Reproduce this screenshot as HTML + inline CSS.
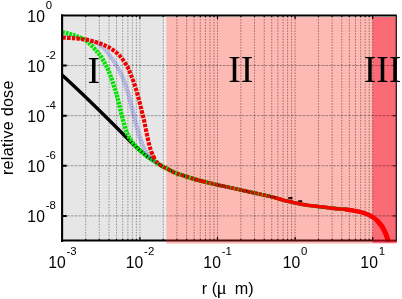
<!DOCTYPE html>
<html><head><meta charset="utf-8"><title>relative dose</title>
<style>html,body{margin:0;padding:0;background:#fff}svg{display:block}text{font-family:"Liberation Sans",sans-serif;fill:#000}.s{font-family:"Liberation Serif",serif}</style></head><body>
<svg width="402" height="299" viewBox="0 0 402 299">
<rect width="402" height="299" fill="#fff"/>
<rect x="63" y="17" width="103.10" height="223.94" fill="#e6e6e6"/>
<rect x="166.10" y="17" width="206.20" height="226.60" fill="#fdbab4"/>
<rect x="372.30" y="17" width="24.16" height="226.30" fill="#fb6b76"/>
<rect x="163.9" y="17" width="2.3" height="222.94" fill="#ececec"/>
<path d="M85.66 16.40 V239.94 M99.32 16.40 V239.94 M109.02 16.40 V239.94 M116.54 16.40 V239.94 M122.68 16.40 V239.94 M127.88 16.40 V239.94 M132.38 16.40 V239.94 M136.35 16.40 V239.94 M139.90 16.40 V239.94 M163.26 16.40 V239.94" stroke="#000" stroke-opacity="0.36" stroke-width="1" stroke-dasharray="1.5 1.3" fill="none"/>
<path d="M176.92 16.40 V239.94 M186.62 16.40 V239.94 M194.14 16.40 V239.94 M200.28 16.40 V239.94 M205.48 16.40 V239.94 M209.98 16.40 V239.94 M213.95 16.40 V239.94 M217.50 16.40 V239.94 M240.86 16.40 V239.94 M254.52 16.40 V239.94 M264.22 16.40 V239.94 M271.74 16.40 V239.94 M277.88 16.40 V239.94 M283.08 16.40 V239.94 M287.58 16.40 V239.94 M291.55 16.40 V239.94 M295.10 16.40 V239.94 M318.46 16.40 V239.94 M332.12 16.40 V239.94 M341.82 16.40 V239.94 M349.34 16.40 V239.94 M355.48 16.40 V239.94 M360.68 16.40 V239.94 M365.18 16.40 V239.94 M369.15 16.40 V239.94 M372.70 16.40 V239.94" stroke="#300" stroke-opacity="0.44" stroke-width="1" stroke-dasharray="1.5 1.3" fill="none"/>
<path d="M63.30 65.52 H395.06 M63.30 115.64 H395.06 M63.30 165.76 H395.06 M63.30 215.88 H395.06" stroke="#000" stroke-opacity="0.36" stroke-width="1" stroke-dasharray="2.6 1.2" fill="none"/>
<path d="M85.66 240.94 v-2.00 M99.32 240.94 v-2.00 M109.02 240.94 v-2.00 M116.54 240.94 v-2.00 M122.68 240.94 v-2.00 M127.88 240.94 v-2.00 M132.38 240.94 v-2.00 M136.35 240.94 v-2.00 M139.90 240.94 v-4.00 M163.26 240.94 v-2.00 M176.92 240.94 v-2.00 M186.62 240.94 v-2.00 M194.14 240.94 v-2.00 M200.28 240.94 v-2.00 M205.48 240.94 v-2.00 M209.98 240.94 v-2.00 M213.95 240.94 v-2.00 M217.50 240.94 v-4.00 M240.86 240.94 v-2.00 M254.52 240.94 v-2.00 M264.22 240.94 v-2.00 M271.74 240.94 v-2.00 M277.88 240.94 v-2.00 M283.08 240.94 v-2.00 M287.58 240.94 v-2.00 M291.55 240.94 v-2.00 M295.10 240.94 v-4.00 M318.46 240.94 v-2.00 M332.12 240.94 v-2.00 M341.82 240.94 v-2.00 M349.34 240.94 v-2.00 M355.48 240.94 v-2.00 M360.68 240.94 v-2.00 M365.18 240.94 v-2.00 M369.15 240.94 v-2.00 M372.70 240.94 v-4.00 M85.66 15.40 v1.50 M99.32 15.40 v1.50 M109.02 15.40 v1.50 M116.54 15.40 v1.50 M122.68 15.40 v1.50 M127.88 15.40 v1.50 M132.38 15.40 v1.50 M136.35 15.40 v1.50 M139.90 15.40 v3.50 M163.26 15.40 v1.50 M176.92 15.40 v1.50 M186.62 15.40 v1.50 M194.14 15.40 v1.50 M200.28 15.40 v1.50 M205.48 15.40 v1.50 M209.98 15.40 v1.50 M213.95 15.40 v1.50 M217.50 15.40 v3.50 M240.86 15.40 v1.50 M254.52 15.40 v1.50 M264.22 15.40 v1.50 M271.74 15.40 v1.50 M277.88 15.40 v1.50 M283.08 15.40 v1.50 M287.58 15.40 v1.50 M291.55 15.40 v1.50 M295.10 15.40 v3.50 M318.46 15.40 v1.50 M332.12 15.40 v1.50 M341.82 15.40 v1.50 M349.34 15.40 v1.50 M355.48 15.40 v1.50 M360.68 15.40 v1.50 M365.18 15.40 v1.50 M369.15 15.40 v1.50 M372.70 15.40 v3.50" stroke="#000" stroke-width="1.2" fill="none"/>
<path d="M62.30 65.52 h4.5 M62.30 115.64 h4.5 M62.30 165.76 h4.5 M62.30 215.88 h4.5" stroke="#000" stroke-width="2" fill="none"/>
<path d="M396.06 65.52 h-3.5 M396.06 115.64 h-3.5 M396.06 165.76 h-3.5 M396.06 215.88 h-3.5" stroke="#5a0a10" stroke-width="1.2" fill="none"/>
<clipPath id="c"><rect x="62.30" y="15.40" width="334.76" height="226.14"/></clipPath>
<g clip-path="url(#c)" fill="none">
<path d="M62.00 74.90 C65.83 78.50 77.50 89.32 85.00 96.50 C92.50 103.68 101.17 112.25 107.00 118.00 C112.83 123.75 115.33 126.33 120.00 131.00 C124.67 135.67 130.83 142.05 135.00 146.00 C139.17 149.95 142.50 152.62 145.00 154.70 C147.50 156.78 148.33 157.33 150.00 158.50 C151.67 159.67 153.33 160.63 155.00 161.70 C156.67 162.77 158.33 163.90 160.00 164.90 C161.67 165.90 162.50 166.40 165.00 167.70 C167.50 169.00 171.67 171.30 175.00 172.70 C178.33 174.10 181.67 175.00 185.00 176.10 C188.33 177.20 191.67 178.33 195.00 179.30 C198.33 180.27 201.67 181.07 205.00 181.90 C208.33 182.73 210.00 183.17 215.00 184.30 C220.00 185.43 228.33 187.23 235.00 188.70 C241.67 190.17 248.33 191.60 255.00 193.10 C261.67 194.60 270.00 196.43 275.00 197.70 C280.00 198.97 280.00 199.50 285.00 200.70 C290.00 201.90 298.33 203.80 305.00 204.90 C311.67 206.00 320.00 206.70 325.00 207.30 C330.00 207.90 331.67 208.17 335.00 208.50 C338.33 208.83 341.67 208.90 345.00 209.30 C348.33 209.70 351.93 210.30 355.00 210.90 C358.07 211.50 360.90 212.13 363.40 212.90 C365.90 213.67 367.77 214.28 370.00 215.50 C372.23 216.72 374.83 218.42 376.80 220.20 C378.77 221.98 380.42 224.18 381.80 226.20 C383.18 228.22 384.13 230.17 385.10 232.30 C386.07 234.43 386.95 237.10 387.60 239.00 C388.25 240.90 388.77 242.92 389.00 243.70" stroke="#000" stroke-width="3.4"/>
<path d="M288.3 198.1h4.2M298.2 201.3h4" stroke="#300" stroke-width="2.2"/>
<path d="M62.50 32.10 C62.80 32.17 62.30 31.93 64.30 32.50 C66.30 33.07 71.05 34.27 74.50 35.50 C77.95 36.73 82.02 38.08 85.00 39.90 C87.98 41.72 90.35 44.38 92.40 46.40 C94.45 48.42 95.87 50.32 97.30 52.00 C98.73 53.68 99.85 54.83 101.00 56.50 C102.15 58.17 103.30 60.42 104.20 62.00 C105.10 63.58 105.60 64.37 106.40 66.00 C107.20 67.63 108.17 69.75 109.00 71.80 C109.83 73.85 110.60 76.00 111.40 78.30 C112.20 80.60 113.10 83.48 113.80 85.60 C114.50 87.72 114.97 88.93 115.60 91.00 C116.23 93.07 116.80 94.83 117.60 98.00 C118.40 101.17 119.32 105.67 120.40 110.00 C121.48 114.33 122.78 119.67 124.10 124.00 C125.42 128.33 126.55 132.50 128.30 136.00 C130.05 139.50 132.65 142.62 134.60 145.00 C136.55 147.38 138.27 148.68 140.00 150.30 C141.73 151.92 143.33 153.33 145.00 154.70 C146.67 156.07 148.33 157.33 150.00 158.50 C151.67 159.67 153.33 160.63 155.00 161.70 C156.67 162.77 158.33 163.90 160.00 164.90 C161.67 165.90 162.50 166.40 165.00 167.70 C167.50 169.00 171.67 171.30 175.00 172.70 C178.33 174.10 181.67 175.00 185.00 176.10 C188.33 177.20 191.67 178.33 195.00 179.30 C198.33 180.27 203.33 181.47 205.00 181.90" stroke="#00e400" stroke-width="4.4" stroke-dasharray="2.6 0.95"/>
<path d="M195.00 179.30 C196.67 179.73 201.67 181.07 205.00 181.90 C208.33 182.73 210.00 183.17 215.00 184.30 C220.00 185.43 228.33 187.23 235.00 188.70 C241.67 190.17 248.33 191.60 255.00 193.10 C261.67 194.60 270.00 196.43 275.00 197.70 C280.00 198.97 280.00 199.50 285.00 200.70 C290.00 201.90 298.33 203.80 305.00 204.90 C311.67 206.00 320.00 206.70 325.00 207.30 C330.00 207.90 331.67 208.17 335.00 208.50 C338.33 208.83 341.67 208.90 345.00 209.30 C348.33 209.70 351.93 210.30 355.00 210.90 C358.07 211.50 360.90 212.13 363.40 212.90 C365.90 213.67 367.77 214.28 370.00 215.50 C372.23 216.72 374.83 218.42 376.80 220.20 C378.77 221.98 380.42 224.18 381.80 226.20 C383.18 228.22 384.13 230.17 385.10 232.30 C386.07 234.43 386.95 237.10 387.60 239.00 C388.25 240.90 388.77 242.92 389.00 243.70" stroke="#18c000" stroke-width="3.7" stroke-dasharray="2.6 0.95"/>
<path d="M62.50 35.30 C64.58 35.52 71.25 36.02 75.00 36.60 C78.75 37.18 82.07 38.00 85.00 38.80 C87.93 39.60 90.10 40.32 92.60 41.40 C95.10 42.48 98.77 44.65 100.00 45.30" stroke="#3030d0" stroke-opacity="0.55" stroke-width="0.9" stroke-dasharray="1 1"/>
<path d="M92.60 41.40 C93.83 42.05 97.60 43.53 100.00 45.30 C102.40 47.07 104.83 49.55 107.00 52.00 C109.17 54.45 110.77 56.58 113.00 60.00 C115.23 63.42 118.25 68.17 120.40 72.50 C122.55 76.83 124.35 81.58 125.90 86.00 C127.45 90.42 128.53 94.67 129.70 99.00 C130.87 103.33 131.72 107.33 132.90 112.00 C134.08 116.67 135.53 122.42 136.80 127.00 C138.07 131.58 139.22 135.83 140.50 139.50 C141.78 143.17 143.08 146.25 144.50 149.00 C145.92 151.75 147.25 153.88 149.00 156.00 C150.75 158.12 154.00 160.75 155.00 161.70" stroke="#8c8cf0" stroke-opacity="0.17" stroke-width="4.4"/>
<path d="M92.60 41.40 C93.83 42.05 97.60 43.53 100.00 45.30 C102.40 47.07 104.83 49.55 107.00 52.00 C109.17 54.45 110.77 56.58 113.00 60.00 C115.23 63.42 118.25 68.17 120.40 72.50 C122.55 76.83 124.35 81.58 125.90 86.00 C127.45 90.42 128.53 94.67 129.70 99.00 C130.87 103.33 131.72 107.33 132.90 112.00 C134.08 116.67 135.53 122.42 136.80 127.00 C138.07 131.58 139.22 135.83 140.50 139.50 C141.78 143.17 143.08 146.25 144.50 149.00 C145.92 151.75 147.25 153.88 149.00 156.00 C150.75 158.12 154.00 160.75 155.00 161.70" transform="translate(-1.8 0)" stroke="#3030d0" stroke-opacity="0.55" stroke-width="0.65" stroke-dasharray="1.3 0.9" stroke-dashoffset="0.00"/>
<path d="M92.60 41.40 C93.83 42.05 97.60 43.53 100.00 45.30 C102.40 47.07 104.83 49.55 107.00 52.00 C109.17 54.45 110.77 56.58 113.00 60.00 C115.23 63.42 118.25 68.17 120.40 72.50 C122.55 76.83 124.35 81.58 125.90 86.00 C127.45 90.42 128.53 94.67 129.70 99.00 C130.87 103.33 131.72 107.33 132.90 112.00 C134.08 116.67 135.53 122.42 136.80 127.00 C138.07 131.58 139.22 135.83 140.50 139.50 C141.78 143.17 143.08 146.25 144.50 149.00 C145.92 151.75 147.25 153.88 149.00 156.00 C150.75 158.12 154.00 160.75 155.00 161.70" transform="translate(-0.6 0)" stroke="#3030d0" stroke-opacity="0.55" stroke-width="0.65" stroke-dasharray="1.3 0.9" stroke-dashoffset="0.55"/>
<path d="M92.60 41.40 C93.83 42.05 97.60 43.53 100.00 45.30 C102.40 47.07 104.83 49.55 107.00 52.00 C109.17 54.45 110.77 56.58 113.00 60.00 C115.23 63.42 118.25 68.17 120.40 72.50 C122.55 76.83 124.35 81.58 125.90 86.00 C127.45 90.42 128.53 94.67 129.70 99.00 C130.87 103.33 131.72 107.33 132.90 112.00 C134.08 116.67 135.53 122.42 136.80 127.00 C138.07 131.58 139.22 135.83 140.50 139.50 C141.78 143.17 143.08 146.25 144.50 149.00 C145.92 151.75 147.25 153.88 149.00 156.00 C150.75 158.12 154.00 160.75 155.00 161.70" transform="translate(0.6 0)" stroke="#3030d0" stroke-opacity="0.55" stroke-width="0.65" stroke-dasharray="1.3 0.9" stroke-dashoffset="1.10"/>
<path d="M92.60 41.40 C93.83 42.05 97.60 43.53 100.00 45.30 C102.40 47.07 104.83 49.55 107.00 52.00 C109.17 54.45 110.77 56.58 113.00 60.00 C115.23 63.42 118.25 68.17 120.40 72.50 C122.55 76.83 124.35 81.58 125.90 86.00 C127.45 90.42 128.53 94.67 129.70 99.00 C130.87 103.33 131.72 107.33 132.90 112.00 C134.08 116.67 135.53 122.42 136.80 127.00 C138.07 131.58 139.22 135.83 140.50 139.50 C141.78 143.17 143.08 146.25 144.50 149.00 C145.92 151.75 147.25 153.88 149.00 156.00 C150.75 158.12 154.00 160.75 155.00 161.70" transform="translate(1.8 0)" stroke="#3030d0" stroke-opacity="0.55" stroke-width="0.65" stroke-dasharray="1.3 0.9" stroke-dashoffset="1.65"/>
<path d="M62.50 37.60 C64.50 37.72 70.75 37.98 74.50 38.30 C78.25 38.62 81.48 38.88 85.00 39.50 C88.52 40.12 92.33 41.03 95.60 42.00 C98.87 42.97 101.87 44.08 104.60 45.30 C107.33 46.52 109.43 47.52 112.00 49.30 C114.57 51.08 117.50 53.22 120.00 56.00 C122.50 58.78 125.17 62.83 127.00 66.00 C128.83 69.17 129.67 71.67 131.00 75.00 C132.33 78.33 133.75 82.17 135.00 86.00 C136.25 89.83 137.42 94.00 138.50 98.00 C139.58 102.00 140.55 106.17 141.50 110.00 C142.45 113.83 143.35 117.17 144.20 121.00 C145.05 124.83 145.75 129.00 146.60 133.00 C147.45 137.00 148.43 141.67 149.30 145.00 C150.17 148.33 150.92 150.67 151.80 153.00 C152.68 155.33 154.13 158.00 154.60 159.00" stroke="#f00000" stroke-width="4.1" stroke-dasharray="3.4 1.25"/>
<path d="M151.80 153.00 C152.27 154.00 153.67 157.40 154.60 159.00 C155.53 160.60 156.50 161.62 157.40 162.60 C158.30 163.58 158.73 164.05 160.00 164.90 C161.27 165.75 162.50 166.40 165.00 167.70 C167.50 169.00 171.67 171.30 175.00 172.70 C178.33 174.10 181.67 175.00 185.00 176.10 C188.33 177.20 191.67 178.33 195.00 179.30 C198.33 180.27 203.33 181.47 205.00 181.90" stroke="#ee0000" stroke-width="3.9" stroke-dasharray="3 1.9" stroke-dashoffset="1"/>
<path d="M195.00 179.30 C196.67 179.73 201.67 181.07 205.00 181.90 C208.33 182.73 210.00 183.17 215.00 184.30 C220.00 185.43 228.33 187.23 235.00 188.70 C241.67 190.17 248.33 191.60 255.00 193.10 C261.67 194.60 270.00 196.43 275.00 197.70 C280.00 198.97 283.33 200.20 285.00 200.70" stroke="#f00000" stroke-width="3.6" stroke-dasharray="2.8 1.3"/>
<path d="M275.00 197.70 C276.67 198.20 280.00 199.50 285.00 200.70 C290.00 201.90 298.33 203.80 305.00 204.90 C311.67 206.00 320.00 206.70 325.00 207.30 C330.00 207.90 331.67 208.17 335.00 208.50 C338.33 208.83 341.67 208.90 345.00 209.30 C348.33 209.70 351.93 210.30 355.00 210.90 C358.07 211.50 360.90 212.13 363.40 212.90 C365.90 213.67 367.77 214.28 370.00 215.50 C372.23 216.72 374.83 218.42 376.80 220.20 C378.77 221.98 380.42 224.18 381.80 226.20 C383.18 228.22 384.13 230.17 385.10 232.30 C386.07 234.43 386.95 237.10 387.60 239.00 C388.25 240.90 388.77 242.92 389.00 243.70" stroke="#fa0000" stroke-width="3.3"/>
<path d="M345.00 209.30 C346.67 209.57 351.93 210.30 355.00 210.90 C358.07 211.50 360.90 212.13 363.40 212.90 C365.90 213.67 367.77 214.28 370.00 215.50 C372.23 216.72 374.83 218.42 376.80 220.20 C378.77 221.98 380.42 224.18 381.80 226.20 C383.18 228.22 384.13 230.17 385.10 232.30 C386.07 234.43 386.95 237.10 387.60 239.00 C388.25 240.90 388.77 242.92 389.00 243.70" stroke="#fa0000" stroke-width="4.3"/>
<path d="M376.80 220.20 C377.63 221.20 380.42 224.18 381.80 226.20 C383.18 228.22 384.13 230.17 385.10 232.30 C386.07 234.43 386.95 237.10 387.60 239.00 C388.25 240.90 388.77 242.92 389.00 243.70" stroke="#fa0000" stroke-width="5"/>
</g>
<path d="M62.10 14.40 V241.94" stroke="#000" stroke-width="2.1" fill="none"/>
<path d="M61.10 15.40 H396.76" stroke="#000" stroke-width="2" fill="none"/>
<path d="M396.26 15.40 V241.84" stroke="#000" stroke-width="1.1" fill="none"/>
<path d="M61.10 240.54 H166.10" stroke="#000" stroke-width="2" fill="none"/>
<path d="M166.10 240.59 H372.30" stroke="#4c0a0a" stroke-width="2" fill="none"/>
<path d="M372.30 240.59 H396.56" stroke="#8c0512" stroke-width="2" fill="none"/>
<text class="s" x="87.6" y="82.5" font-size="37.5">I</text>
<text class="s" x="228.2" y="81.6" font-size="37.5">II</text>
<text class="s" x="363.8" y="81.6" font-size="37.5">III</text>
<text x="27.3" y="21.70" font-size="15.7" letter-spacing="0.15">10<tspan dy="-13" dx="0.6" font-size="11.4" letter-spacing="0">0</tspan></text>
<text x="27.3" y="71.82" font-size="15.7" letter-spacing="0.15">10<tspan dy="-13" dx="0.6" font-size="11.4" letter-spacing="0">-2</tspan></text>
<text x="27.3" y="121.94" font-size="15.7" letter-spacing="0.15">10<tspan dy="-13" dx="0.6" font-size="11.4" letter-spacing="0">-4</tspan></text>
<text x="27.3" y="172.06" font-size="15.7" letter-spacing="0.15">10<tspan dy="-13" dx="0.6" font-size="11.4" letter-spacing="0">-6</tspan></text>
<text x="27.3" y="222.18" font-size="15.7" letter-spacing="0.15">10<tspan dy="-13" dx="0.6" font-size="11.4" letter-spacing="0">-8</tspan></text>
<text x="48.15" y="267.6" font-size="15.7" letter-spacing="0.15">10<tspan dy="-13" dx="0.6" font-size="11.4" letter-spacing="0">-3</tspan></text>
<text x="125.75" y="267.6" font-size="15.7" letter-spacing="0.15">10<tspan dy="-13" dx="0.6" font-size="11.4" letter-spacing="0">-2</tspan></text>
<text x="203.35" y="267.6" font-size="15.7" letter-spacing="0.15">10<tspan dy="-13" dx="0.6" font-size="11.4" letter-spacing="0">-1</tspan></text>
<text x="282.70" y="267.6" font-size="15.7" letter-spacing="0.15">10<tspan dy="-13" dx="0.6" font-size="11.4" letter-spacing="0">0</tspan></text>
<text x="360.30" y="267.6" font-size="15.7" letter-spacing="0.15">10<tspan dy="-13" dx="0.6" font-size="11.4" letter-spacing="0">1</tspan></text>
<text transform="translate(12.8 175) rotate(-90)" font-size="16.2" letter-spacing="0.22">relative dose</text>
<text x="201.8" y="294.2" font-size="16.2">r (<tspan class="s" font-size="19" dx="-0.5">μ</tspan><tspan dx="3.4"> m)</tspan></text>
</svg></body></html>
